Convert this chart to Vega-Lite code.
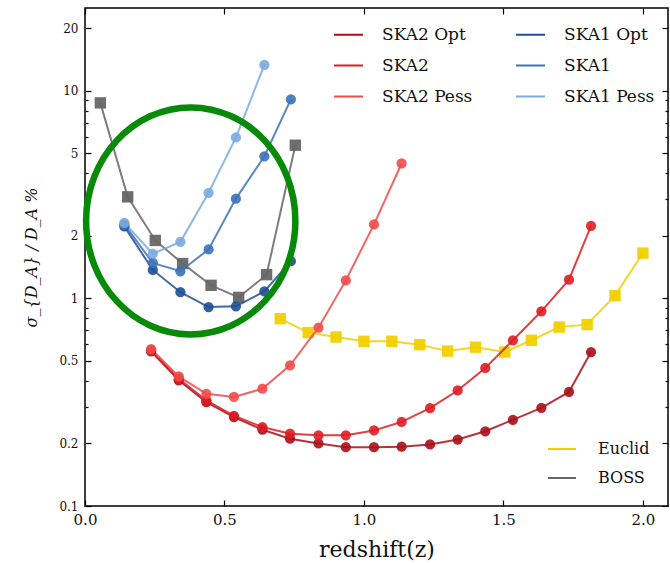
{
  "$schema": "https://vega.github.io/schema/vega-lite/v6.json",
  "width": 583,
  "height": 498,
  "autosize": {"type": "none"},
  "padding": {"left": 85, "top": 8, "right": 2, "bottom": 57},
  "background": "white",
  "config": {
    "view": {"stroke": "#000", "strokeWidth": 1.5},
    "font": "DejaVu Serif",
    "axis": {"grid": false, "domain": false, "labelFlush": false, "tickColor": "#000", "tickWidth": 1.2, "labelColor": "#111", "titleColor": "#111", "labelFont": "DejaVu Serif", "titleFont": "DejaVu Serif", "titleFontWeight": "normal"}
  },
  "datasets": {
    "ska": [
      {"survey": "SKA2 Opt", "z": 0.237, "sigma": 0.555},
      {"survey": "SKA2 Opt", "z": 0.336, "sigma": 0.403},
      {"survey": "SKA2 Opt", "z": 0.435, "sigma": 0.316},
      {"survey": "SKA2 Opt", "z": 0.534, "sigma": 0.268},
      {"survey": "SKA2 Opt", "z": 0.636, "sigma": 0.233},
      {"survey": "SKA2 Opt", "z": 0.735, "sigma": 0.211},
      {"survey": "SKA2 Opt", "z": 0.837, "sigma": 0.2},
      {"survey": "SKA2 Opt", "z": 0.935, "sigma": 0.192},
      {"survey": "SKA2 Opt", "z": 1.036, "sigma": 0.192},
      {"survey": "SKA2 Opt", "z": 1.135, "sigma": 0.193},
      {"survey": "SKA2 Opt", "z": 1.237, "sigma": 0.198},
      {"survey": "SKA2 Opt", "z": 1.336, "sigma": 0.209},
      {"survey": "SKA2 Opt", "z": 1.435, "sigma": 0.229},
      {"survey": "SKA2 Opt", "z": 1.534, "sigma": 0.26},
      {"survey": "SKA2 Opt", "z": 1.636, "sigma": 0.297},
      {"survey": "SKA2 Opt", "z": 1.735, "sigma": 0.354},
      {"survey": "SKA2 Opt", "z": 1.814, "sigma": 0.551},
      {"survey": "SKA2", "z": 0.237, "sigma": 0.562},
      {"survey": "SKA2", "z": 0.336, "sigma": 0.41},
      {"survey": "SKA2", "z": 0.435, "sigma": 0.323},
      {"survey": "SKA2", "z": 0.534, "sigma": 0.272},
      {"survey": "SKA2", "z": 0.636, "sigma": 0.24},
      {"survey": "SKA2", "z": 0.735, "sigma": 0.223},
      {"survey": "SKA2", "z": 0.837, "sigma": 0.219},
      {"survey": "SKA2", "z": 0.935, "sigma": 0.219},
      {"survey": "SKA2", "z": 1.036, "sigma": 0.231},
      {"survey": "SKA2", "z": 1.135, "sigma": 0.254},
      {"survey": "SKA2", "z": 1.237, "sigma": 0.296},
      {"survey": "SKA2", "z": 1.336, "sigma": 0.36},
      {"survey": "SKA2", "z": 1.435, "sigma": 0.462},
      {"survey": "SKA2", "z": 1.534, "sigma": 0.628},
      {"survey": "SKA2", "z": 1.636, "sigma": 0.866},
      {"survey": "SKA2", "z": 1.735, "sigma": 1.23},
      {"survey": "SKA2", "z": 1.814, "sigma": 2.23},
      {"survey": "SKA2 Pess", "z": 0.237, "sigma": 0.57},
      {"survey": "SKA2 Pess", "z": 0.336, "sigma": 0.421},
      {"survey": "SKA2 Pess", "z": 0.435, "sigma": 0.347},
      {"survey": "SKA2 Pess", "z": 0.534, "sigma": 0.335},
      {"survey": "SKA2 Pess", "z": 0.636, "sigma": 0.367},
      {"survey": "SKA2 Pess", "z": 0.735, "sigma": 0.476},
      {"survey": "SKA2 Pess", "z": 0.837, "sigma": 0.722},
      {"survey": "SKA2 Pess", "z": 0.935, "sigma": 1.22},
      {"survey": "SKA2 Pess", "z": 1.036, "sigma": 2.27},
      {"survey": "SKA2 Pess", "z": 1.135, "sigma": 4.46},
      {"survey": "SKA1 Opt", "z": 0.141, "sigma": 2.22},
      {"survey": "SKA1 Opt", "z": 0.243, "sigma": 1.37},
      {"survey": "SKA1 Opt", "z": 0.342, "sigma": 1.07},
      {"survey": "SKA1 Opt", "z": 0.443, "sigma": 0.908},
      {"survey": "SKA1 Opt", "z": 0.541, "sigma": 0.915},
      {"survey": "SKA1 Opt", "z": 0.643, "sigma": 1.08},
      {"survey": "SKA1 Opt", "z": 0.738, "sigma": 1.51},
      {"survey": "SKA1", "z": 0.141, "sigma": 2.27},
      {"survey": "SKA1", "z": 0.243, "sigma": 1.48},
      {"survey": "SKA1", "z": 0.342, "sigma": 1.35},
      {"survey": "SKA1", "z": 0.443, "sigma": 1.72},
      {"survey": "SKA1", "z": 0.541, "sigma": 3.02},
      {"survey": "SKA1", "z": 0.643, "sigma": 4.83},
      {"survey": "SKA1", "z": 0.738, "sigma": 9.07},
      {"survey": "SKA1 Pess", "z": 0.141, "sigma": 2.31},
      {"survey": "SKA1 Pess", "z": 0.243, "sigma": 1.64},
      {"survey": "SKA1 Pess", "z": 0.342, "sigma": 1.87},
      {"survey": "SKA1 Pess", "z": 0.443, "sigma": 3.22},
      {"survey": "SKA1 Pess", "z": 0.541, "sigma": 5.95},
      {"survey": "SKA1 Pess", "z": 0.643, "sigma": 13.3}
    ],
    "other": [
      {"survey": "Euclid", "z": 0.7, "sigma": 0.798},
      {"survey": "Euclid", "z": 0.8, "sigma": 0.684},
      {"survey": "Euclid", "z": 0.9, "sigma": 0.651},
      {"survey": "Euclid", "z": 1.0, "sigma": 0.621},
      {"survey": "Euclid", "z": 1.1, "sigma": 0.621},
      {"survey": "Euclid", "z": 1.2, "sigma": 0.598},
      {"survey": "Euclid", "z": 1.3, "sigma": 0.557},
      {"survey": "Euclid", "z": 1.4, "sigma": 0.582},
      {"survey": "Euclid", "z": 1.505, "sigma": 0.551},
      {"survey": "Euclid", "z": 1.6, "sigma": 0.628},
      {"survey": "Euclid", "z": 1.7, "sigma": 0.727},
      {"survey": "Euclid", "z": 1.8, "sigma": 0.747},
      {"survey": "Euclid", "z": 1.9, "sigma": 1.03},
      {"survey": "Euclid", "z": 2.0, "sigma": 1.65},
      {"survey": "BOSS", "z": 0.055, "sigma": 8.73},
      {"survey": "BOSS", "z": 0.153, "sigma": 3.08},
      {"survey": "BOSS", "z": 0.252, "sigma": 1.9},
      {"survey": "BOSS", "z": 0.35, "sigma": 1.47},
      {"survey": "BOSS", "z": 0.452, "sigma": 1.155},
      {"survey": "BOSS", "z": 0.551, "sigma": 1.01},
      {"survey": "BOSS", "z": 0.651, "sigma": 1.3},
      {"survey": "BOSS", "z": 0.754, "sigma": 5.46}
    ],
    "annotation": [
      {"z": 0.379, "sigma": 2.36}
    ]
  },
  "layer": [
    {
      "data": {"name": "other"},
      "mark": {"type": "line", "strokeWidth": 2, "opacity": 0.85, "point": {"filled": true, "shape": "square", "size": 130, "opacity": 0.95}},
      "encoding": {
        "x": {"field": "z", "type": "quantitative", "scale": {"domain": [0, 2.09], "nice": false, "zero": false}, "axis": null},
        "y": {"field": "sigma", "type": "quantitative", "scale": {"type": "log", "domain": [0.1, 25], "nice": false}, "axis": null},
        "color": {
          "field": "survey", "type": "nominal",
          "scale": {"domain": ["Euclid", "BOSS"], "range": ["#f0d000", "#666666"]},
          "legend": {"orient": "none", "legendX": 462, "legendY": 426, "title": null, "padding": 0, "symbolType": "stroke", "symbolSize": 784, "symbolStrokeWidth": 2, "symbolOpacity": 1, "labelFont": "DejaVu Serif", "labelFontSize": 16, "labelColor": "#111", "labelOffset": 21, "rowPadding": 6}
        }
      }
    },
    {
      "data": {"name": "ska"},
      "mark": {"type": "line", "strokeWidth": 2, "opacity": 0.85, "point": {"filled": true, "size": 105, "opacity": 0.9}},
      "encoding": {
        "x": {"field": "z", "type": "quantitative", "scale": {"domain": [0, 2.09], "nice": false, "zero": false},
          "axis": {"orient": "bottom", "values": [0, 0.5, 1, 1.5, 2], "format": ".1f", "tickSize": -6, "labelFontSize": 15, "labelPadding": 12, "title": "redshift(z)", "titleFontSize": 22, "titlePadding": 12}},
        "y": {"field": "sigma", "type": "quantitative", "scale": {"type": "log", "domain": [0.1, 25], "nice": false},
          "axis": {"orient": "left", "values": [0.1, 0.2, 0.5, 1, 2, 5, 10, 20], "format": "~g", "tickSize": -6, "labelFontSize": 12, "labelPadding": 13, "title": "σ_{D_A} / D_A %", "titleFontSize": 16, "titleFontStyle": "italic", "titlePadding": 19}},
        "color": {
          "field": "survey", "type": "nominal",
          "scale": {"domain": ["SKA2 Opt", "SKA2", "SKA2 Pess", "SKA1 Opt", "SKA1", "SKA1 Pess"], "range": ["#aa0f18", "#de1d22", "#f04a4a", "#1f4f95", "#3b72b9", "#7aaade"]},
          "legend": {"orient": "none", "legendX": 248, "legendY": 11, "columns": 2, "title": null, "padding": 0, "symbolType": "stroke", "symbolSize": 841, "symbolStrokeWidth": 2, "symbolOpacity": 1, "labelFont": "DejaVu Serif", "labelFontSize": 17, "labelColor": "#111", "labelOffset": 18, "rowPadding": 7, "columnPadding": 39}
        }
      }
    },
    {
      "data": {"name": "annotation"},
      "mark": {"type": "point", "shape": "M 0.922 0 C 0.922 0.5523 0.5092 1 0 1 C -0.5092 1 -0.922 0.5523 -0.922 0 C -0.922 -0.5523 -0.5092 -1 0 -1 C 0.5092 -1 0.922 -0.5523 0.922 0 Z", "size": 51529, "filled": false, "stroke": "#078a07", "strokeWidth": 6.5, "opacity": 1},
      "encoding": {
        "x": {"field": "z", "type": "quantitative", "axis": null},
        "y": {"field": "sigma", "type": "quantitative", "axis": null}
      }
    },
    {
      "data": {"name": "ska"},
      "mark": {"type": "point", "opacity": 0},
      "encoding": {
        "x": {"field": "z", "type": "quantitative", "axis": {"orient": "top", "values": [0, 0.5, 1, 1.5, 2], "tickSize": -6, "labels": false, "title": null}},
        "y": {"field": "sigma", "type": "quantitative", "axis": {"orient": "right", "values": [0.1, 0.2, 0.5, 1, 2, 5, 10, 20], "tickSize": -6, "labels": false, "title": null}}
      }
    },
    {
      "data": {"name": "ska"},
      "mark": {"type": "point", "opacity": 0},
      "encoding": {
        "y": {"field": "sigma", "type": "quantitative", "axis": {"orient": "left", "values": [0.3, 0.4, 0.6, 0.7, 0.8, 0.9, 3, 4, 6, 7, 8, 9], "tickSize": -3, "labels": false, "title": null}}
      }
    },
    {
      "data": {"name": "ska"},
      "mark": {"type": "point", "opacity": 0},
      "encoding": {
        "y": {"field": "sigma", "type": "quantitative", "axis": {"orient": "right", "values": [0.3, 0.4, 0.6, 0.7, 0.8, 0.9, 3, 4, 6, 7, 8, 9], "tickSize": -3, "labels": false, "title": null}}
      }
    }
  ],
  "resolve": {"scale": {"color": "independent"}, "axis": {"x": "independent", "y": "independent"}}
}
